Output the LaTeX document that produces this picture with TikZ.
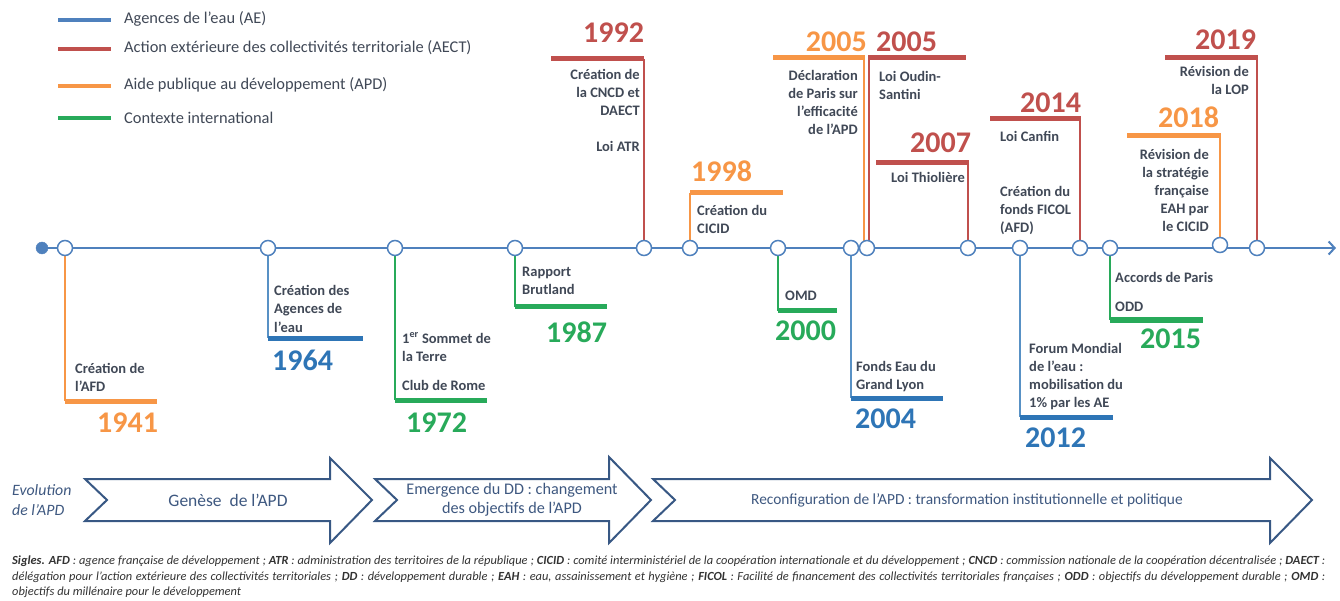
\documentclass[tikz,border=0pt]{standalone}
\usepackage{fontspec}
\setmainfont{Carlito}
\usetikzlibrary{arrows.meta}
\definecolor{axisC}{RGB}{79,129,189}
\definecolor{blueC}{RGB}{46,117,182}
\definecolor{redC}{RGB}{192,80,77}
\definecolor{orC}{RGB}{247,150,70}
\definecolor{grC}{RGB}{40,170,90}
\definecolor{txtC}{RGB}{64,72,86}
\definecolor{arrC}{RGB}{56,88,132}
\definecolor{arrT}{RGB}{62,88,128}
\definecolor{footC}{RGB}{50,50,50}
\newcommand{\lblfont}{\fontsize{14.5}{18}\selectfont\bfseries}
\newcommand{\yrfont}{\fontsize{30}{30}\selectfont\bfseries}
\tikzset{
  lbl/.style={font=\lblfont, text=txtC, inner sep=0pt, anchor=base west, align=left},
  lblr/.style={font=\lblfont, text=txtC, inner sep=0pt, anchor=base east, align=right},
  yr/.style={font=\yrfont, inner sep=0pt, anchor=base west},
  bar/.style={line width=5pt},
  stem/.style={line width=1.5pt},
  ev/.style={circle, draw=axisC, fill=white, line width=1.5pt, minimum size=15pt, inner sep=0pt},
  legline/.style={line width=3.5pt},
  legtxt/.style={font=\fontsize{16.4}{18}\selectfont, text=txtC, inner sep=0pt, anchor=west},
  phase/.style={draw=arrC, line width=2pt, fill=white, line join=miter},
  phasetxt/.style={text=arrT, inner sep=0pt, align=center},
}
\begin{document}
\begin{tikzpicture}[x=1pt,y=-1pt]
\useasboundingbox (0,0) rectangle (1340,601);

% legend
\coordinate (l1a) at (58,20); \coordinate (l1b) at (111,20);
\coordinate (l2a) at (58,49); \coordinate (l2b) at (111,49);
\coordinate (l3a) at (58,86); \coordinate (l3b) at (111,86);
\coordinate (l4a) at (58,118); \coordinate (l4b) at (111,118);
\draw[legline, axisC] (l1a) -- (l1b);
\draw[legline, redC] (l2a) -- (l2b);
\draw[legline, orC] (l3a) -- (l3b);
\draw[legline, grC] (l4a) -- (l4b);
\node[legtxt] (lt1) at (124,19) {Agences de l’eau (AE)};
\node[legtxt] (lt2) at (124,48) {Action extérieure des collectivités territoriale (AECT)};
\node[legtxt] (lt3) at (124,85) {Aide publique au développement (APD)};
\node[legtxt] (lt4) at (124,118) {Contexte international};

% axis
\node[circle, fill=axisC, draw=axisC, minimum size=12pt, inner sep=0pt] (start) at (42,248) {};
\coordinate (axend) at (1336,248);
\draw[axisC, line width=2pt, -{Straight Barb[length=6pt,width=13pt,line width=2pt]}] (start.center) -- (axend);

% bar end coordinates
\coordinate (b41) at (65,401);   \coordinate (b41e) at (157,401);
\coordinate (b64) at (268,338);  \coordinate (b64e) at (363,338);
\coordinate (b72) at (395,400);  \coordinate (b72e) at (487,400);
\coordinate (b87) at (515,307);  \coordinate (b87e) at (607,307);
\coordinate (b92) at (644,59);   \coordinate (b92e) at (551,59);
\coordinate (b98) at (690,193);  \coordinate (b98e) at (783,193);
\coordinate (b00) at (778,311);  \coordinate (b00e) at (837,311);
\coordinate (b04) at (851,398);  \coordinate (b04e) at (943,398);
\coordinate (b05o) at (864,58);  \coordinate (b05oe) at (773,58);
\coordinate (b05r) at (869,58);  \coordinate (b05re) at (966,58);
\coordinate (b07) at (968,163);  \coordinate (b07e) at (876,163);
\coordinate (b12) at (1020,417); \coordinate (b12e) at (1113,417);
\coordinate (b14) at (1080,119); \coordinate (b14e) at (990,119);
\coordinate (b15) at (1110,320); \coordinate (b15e) at (1203,320);
\coordinate (b18) at (1220,136); \coordinate (b18e) at (1127,136);
\coordinate (b19) at (1257,58);  \coordinate (b19e) at (1165,58);
\coordinate (s05o) at (864,244); \coordinate (s05r) at (869,244);

% stems
\draw[stem, orC] (65,248) -- (b41);
\draw[stem, blueC!80] (268,248) -- (b64);
\draw[stem, grC] (395,248) -- (b72);
\draw[stem, grC] (515,248) -- (b87);
\draw[stem, redC] (644,248) -- (b92);
\draw[stem, orC] (690,248) -- (b98);
\draw[stem, grC] (778,248) -- (b00);
\draw[stem, blueC!80] (851,248) -- (b04);
\draw[stem, orC] (s05o) -- (b05o);
\draw[stem, redC] (s05r) -- (b05r);
\draw[stem, redC] (968,248) -- (b07);
\draw[stem, blueC!80] (1020,248) -- (b12);
\draw[stem, redC] (1080,248) -- (b14);
\draw[stem, grC] (1110,248) -- (b15);
\draw[stem, orC] (1220,245) -- (b18);
\draw[stem, redC] (1257,248) -- (b19);

% bars
\draw[bar, orC] (b41) -- (b41e);
\draw[bar, blueC] (b64) -- (b64e);
\draw[bar, grC] (b72) -- (b72e);
\draw[bar, grC] (b87) -- (b87e);
\draw[bar, redC] (b92) -- (b92e);
\draw[bar, orC] (b98) -- (b98e);
\draw[bar, grC] (b00) -- (b00e);
\draw[bar, blueC] (b04) -- (b04e);
\draw[bar, orC] ([xshift=0.75pt]b05o) -- (b05oe);
\draw[bar, redC] ([xshift=-0.75pt]b05r) -- (b05re);
\draw[bar, redC] ([xshift=0.75pt]b07) -- (b07e);
\draw[bar, blueC] (b12) -- (b12e);
\draw[bar, redC] ([xshift=0.75pt]b14) -- (b14e);
\draw[bar, grC] (b15) -- (b15e);
\draw[bar, orC] ([xshift=0.75pt]b18) -- (b18e);
\draw[bar, redC] ([xshift=0.75pt]b19) -- (b19e);

% event circles
\node[ev] (e41) at (65,248) {};
\node[ev] (e64) at (268,248) {};
\node[ev] (e72) at (395,248) {};
\node[ev] (e87) at (515,248) {};
\node[ev] (e92) at (644,248) {};
\node[ev] (e98) at (690,248) {};
\node[ev] (e00) at (778,248) {};
\node[ev] (e04) at (851,248) {};
\node[ev] (e05) at (867,248) {};
\node[ev] (e07) at (968,248) {};
\node[ev] (e12) at (1020,248) {};
\node[ev] (e14) at (1080,248) {};
\node[ev] (e15) at (1110,248) {};
\node[ev] (e18) at (1220,245) {};
\node[ev] (e19) at (1257,248) {};

% years
\node[yr, text=orC] (y41) at (97,432) {1941};
\node[yr, text=blueC] (y64) at (272,370) {1964};
\node[yr, text=grC] (y72) at (406,432) {1972};
\node[yr, text=grC] (y87) at (546,342) {1987};
\node[yr, text=redC] (y92) at (583,43) {1992};
\node[yr, text=orC] (y98) at (691,182) {1998};
\node[yr, text=grC] (y00) at (775,340) {2000};
\node[yr, text=blueC] (y04) at (855,428) {2004};
\node[yr, text=orC, anchor=base east] (y05o) at (867,52) {2005};
\node[yr, text=redC] (y05r) at (876,52) {2005};
\node[yr, text=redC] (y07) at (910,153) {2007};
\node[yr, text=blueC] (y12) at (1025,447) {2012};
\node[yr, text=redC] (y14) at (1020,113) {2014};
\node[yr, text=grC] (y15) at (1140,348) {2015};
\node[yr, text=orC] (y18) at (1158,128) {2018};
\node[yr, text=redC] (y19) at (1195,50) {2019};

% labels (anchor = baseline of the last line)
\node[lbl] (t41) at (75,391) {Création de\\l’AFD};
\node[lbl] (t64) at (274,332) {Création des\\Agences de\\l’eau};
\node[lbl] (t72) at (402,390) {1\textsuperscript{er} Sommet de\\la Terre\\[11pt]Club de Rome};
\node[lbl] (t87) at (522,295) {Rapport\\Brutland};
\node[lblr] (t92) at (640,152) {Création de\\la CNCD et\\DAECT\\[18pt]Loi ATR};
\node[lbl] (t98) at (697,234) {Création du\\CICID};
\node[lbl] (t00) at (785,301) {OMD};
\node[lbl] (t04) at (856,389) {Fonds Eau du\\Grand Lyon};
\node[lblr] (t05o) at (858,135) {Déclaration\\de Paris sur\\l’efficacité\\de l’APD};
\node[lbl] (t05r) at (879,100) {Loi Oudin-\\Santini};
\node[lblr] (t07) at (965,183) {Loi Thiolière};
\node[lbl] (t12) at (1029,407) {Forum Mondial\\de l’eau :\\mobilisation du\\1\% par les AE};
\node[lbl] (t14) at (1000,142) {Loi Canfin};
\node[lbl] (t14b) at (1000,233) {Création du\\fonds FICOL\\(AFD)};
\node[lbl] (t15) at (1115,312) {Accords de Paris\\[11pt]ODD};
\node[lblr] (t18) at (1209,232) {Révision de\\la stratégie\\française\\EAH par\\le CICID};
\node[lblr] (t19) at (1249,95) {Révision de\\la LOP};

% phases
\node[font=\fontsize{15.8}{19.5}\selectfont\itshape, text=arrT, align=left, inner sep=0pt, anchor=west] (evo) at (12,500) {Evolution\\de l’APD};
\draw[phase] (85,479) -- (330,479) -- (330,458) -- (372,500) -- (330,543) -- (330,521) -- (85,521) -- (107,500) -- cycle;
\draw[phase] (375,479) -- (609,479) -- (609,457) -- (651,500) -- (609,543) -- (609,521) -- (375,521) -- (397,500) -- cycle;
\draw[phase] (653,479) -- (1270,479) -- (1270,458) -- (1312,500) -- (1270,543) -- (1270,521) -- (653,521) -- (675,500) -- cycle;
\node[phasetxt, font=\fontsize{17.5}{20}\selectfont] (p1) at (228,500) {Genèse\ \ de l’APD};
\node[phasetxt, font=\fontsize{16.2}{18.5}\selectfont] (p2) at (512,500) {Emergence du DD : changement\\des objectifs de l’APD};
\node[phasetxt, font=\fontsize{15.4}{18}\selectfont] (p3) at (967,500) {Reconfiguration de l’APD : transformation institutionnelle et politique};

% footer
\node[inner sep=0pt, anchor=north west, text width=1313pt, align=justify, text=footC,
      font=\fontsize{12.4}{15.5}\selectfont\itshape] (foot) at (12,556)
{\textbf{Sigles. AFD} : agence française de développement ; \textbf{ATR} : administration des territoires de la république ; \textbf{CICID} : comité interministériel de la coopération internationale et du développement ; \textbf{CNCD} : commission nationale de la coopération décentralisée ; \textbf{DAECT} :\linebreak
délégation pour l’action extérieure des collectivités territoriales ; \textbf{DD} : développement durable ; \textbf{EAH} : eau, assainissement et hygiène ; \textbf{FICOL} : Facilité de financement des collectivités territoriales françaises ; \textbf{ODD} : objectifs du développement durable ; \textbf{OMD} :\linebreak
objectifs du millénaire pour le développement\par};
\end{tikzpicture}
\end{document}
